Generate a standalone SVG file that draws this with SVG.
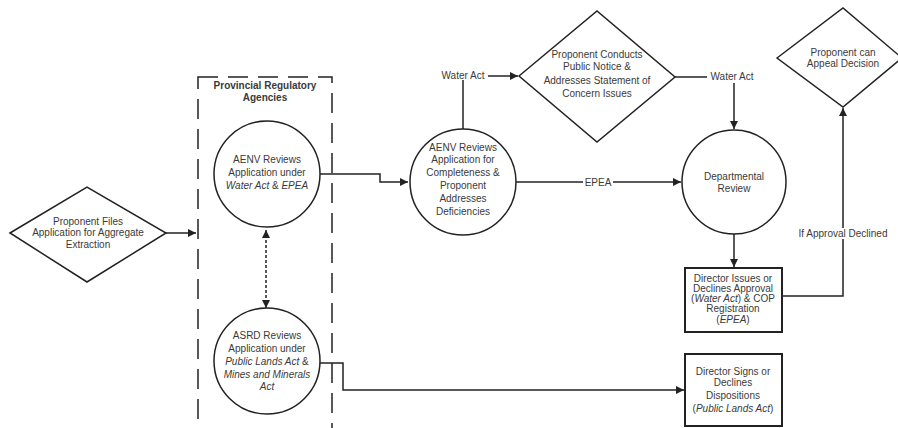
<svg xmlns="http://www.w3.org/2000/svg" width="898" height="428" viewBox="0 0 898 428">
<defs>
<marker id="arr" viewBox="0 0 10 10" refX="10" refY="5" markerWidth="9" markerHeight="8" markerUnits="userSpaceOnUse" orient="auto-start-reverse">
<path d="M0,0 L10,5 L0,10 z" fill="#222"/>
</marker>
</defs>
<style>
text{font-family:"Liberation Sans",Arial,sans-serif;font-size:10px;fill:#3a3a3a;text-anchor:middle}
.b{font-weight:bold}
.i{font-style:italic}
.shape{fill:#fff;stroke:#222;stroke-width:1.5}
.box{fill:#fff;stroke:#222;stroke-width:2}
.ln{fill:none;stroke:#222;stroke-width:1.5}
.lbl{fill:#fff}
</style>
<rect width="898" height="428" fill="#fff"/>

<g id="agencies">
<rect x="198" y="77" width="134" height="352" fill="none" stroke="#222" stroke-width="1.5" stroke-dasharray="20,10"/>
<text class="b" x="265" y="89">Provincial Regulatory</text>
<text class="b" x="265" y="101">Agencies</text>
</g>

<g id="connectors">
<line class="ln" x1="166" y1="233" x2="196" y2="233" marker-end="url(#arr)"/>
<polyline class="ln" points="320,174 380,174 380,182 408,182" marker-end="url(#arr)"/>
<line class="ln" x1="266" y1="230" x2="266" y2="308" stroke-dasharray="3,2" marker-start="url(#arr)" marker-end="url(#arr)"/>
<polyline class="ln" points="318,363 343,363 343,390 684,390" marker-end="url(#arr)"/>
<line class="ln" x1="463" y1="129" x2="463" y2="80"/>
<line class="ln" x1="487" y1="76" x2="518" y2="76" marker-end="url(#arr)"/>
<line class="ln" x1="516" y1="182" x2="681" y2="182" marker-end="url(#arr)"/>
<line class="ln" x1="675" y1="77" x2="708" y2="77"/>
<line class="ln" x1="734" y1="83" x2="734" y2="129" marker-end="url(#arr)"/>
<line class="ln" x1="734" y1="234" x2="734" y2="267" marker-end="url(#arr)"/>
<polyline class="ln" points="782,296 843,296 843,108" marker-end="url(#arr)"/>
<rect class="lbl" x="438" y="69" width="50" height="11"/>
<text x="463" y="79">Water Act</text>
<rect class="lbl" x="583" y="177" width="30" height="11"/>
<text x="598" y="186">EPEA</text>
<rect class="lbl" x="707" y="71" width="50" height="11"/>
<text x="732" y="80">Water Act</text>
<rect class="lbl" x="805" y="228" width="76" height="11"/>
<text x="843" y="237">If Approval Declined</text>
</g>

<g id="n-files">
<polygon class="shape" points="10,233 87,187 166,233 87,282"/>
<text x="88" y="225">Proponent Files</text>
<text x="88" y="236">Application for Aggregate</text>
<text x="88" y="248">Extraction</text>
</g>

<g id="n-aenv1">
<circle class="shape" cx="267" cy="174" r="53"/>
<text x="267" y="163">AENV Reviews</text>
<text x="267" y="176">Application under</text>
<text x="267" y="189"><tspan class="i">Water Act</tspan> &amp; <tspan class="i">EPEA</tspan></text>
</g>

<g id="n-asrd">
<circle class="shape" cx="267" cy="361" r="53"/>
<text x="267" y="339">ASRD Reviews</text>
<text x="267" y="352">Application under</text>
<text x="267" y="365"><tspan class="i">Public Lands Act</tspan> &amp;</text>
<text x="267" y="378" class="i">Mines and Minerals</text>
<text x="267" y="390" class="i">Act</text>
</g>

<g id="n-aenv2">
<circle class="shape" cx="463" cy="182" r="53"/>
<text x="463" y="151">AENV Reviews</text>
<text x="463" y="163">Application for</text>
<text x="463" y="176">Completeness &amp;</text>
<text x="463" y="189">Proponent</text>
<text x="463" y="202">Addresses</text>
<text x="463" y="215">Deficiencies</text>
</g>

<g id="n-notice">
<polygon class="shape" points="519,76 597,11 675,77 597,142"/>
<text x="597" y="58">Proponent  Conducts</text>
<text x="597" y="70">Public Notice &amp;</text>
<text x="597" y="84">Addresses Statement of</text>
<text x="597" y="97">Concern Issues</text>
</g>

<g id="n-review">
<circle class="shape" cx="734" cy="182" r="52"/>
<text x="734" y="180">Departmental</text>
<text x="734" y="192">Review</text>
</g>

<g id="n-appeal">
<polygon class="shape" points="777,58 843,8 902,58 843,107"/>
<text x="843" y="56">Proponent can</text>
<text x="843" y="67">Appeal Decision</text>
</g>

<g id="n-director1">
<rect class="box" x="685" y="268" width="97" height="64"/>
<text x="733" y="282">Director Issues or</text>
<text x="733" y="292">Declines Approval</text>
<text x="733" y="302">(<tspan class="i">Water Act</tspan>) &amp; COP</text>
<text x="733" y="312">Registration</text>
<text x="733" y="323">(<tspan class="i">EPEA</tspan>)</text>
</g>

<g id="n-director2">
<rect class="box" x="685" y="354" width="97" height="72"/>
<text x="733" y="375">Director Signs or</text>
<text x="733" y="386">Declines</text>
<text x="733" y="399">Dispositions</text>
<text x="733" y="412">(<tspan class="i">Public Lands Act</tspan>)</text>
</g>
</svg>
